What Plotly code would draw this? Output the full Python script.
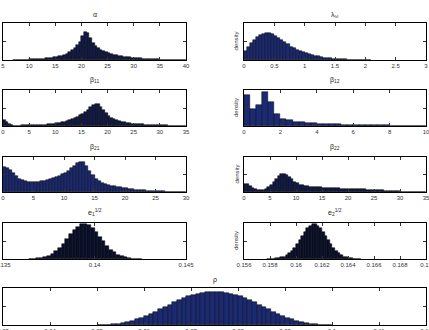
import numpy as np
import plotly.graph_objects as go

W, H = 429, 330

# ---------------- data (relative bar heights, peak = 1) ----------------
alpha_edges0, alpha_bw = 7.0, 0.5
alpha_h = [0.005, 0.008, 0.01, 0.012, 0.015, 0.018,
           0.02, 0.024, 0.028, 0.033, 0.038,
           0.045, 0.055, 0.065, 0.08, 0.095,
           0.11, 0.13, 0.16, 0.19, 0.23,
           0.28, 0.34, 0.42, 0.52, 0.64,
           0.85, 1.0, 0.97, 0.8, 0.62, 0.5, 0.42, 0.36, 0.31, 0.27,
           0.24, 0.21, 0.19, 0.17, 0.15, 0.135, 0.12, 0.105, 0.095, 0.085,
           0.075, 0.066, 0.058, 0.05, 0.044, 0.038, 0.033, 0.028, 0.024, 0.02,
           0.017, 0.014, 0.011, 0.009, 0.007, 0.005, 0.004, 0.003, 0.002, 0.001]

lam_edges0, lam_bw = 0.0, 0.05
lam_h = [0.35, 0.5, 0.62, 0.74, 0.84, 0.92, 0.97, 1.0, 0.99, 0.95, 0.9, 0.83,
         0.75, 0.66, 0.58, 0.5, 0.44, 0.38, 0.33, 0.29, 0.25, 0.21, 0.18, 0.155,
         0.13, 0.11, 0.09, 0.075, 0.062, 0.05, 0.04, 0.032, 0.026, 0.02, 0.016,
         0.012, 0.009, 0.007, 0.005, 0.004, 0.003, 0.002]

b11_edges0, b11_bw = 0.0, 0.5
b11_h = [0.25, 0.2, 0.08, 0.03, 0.02, 0.02, 0.022, 0.025, 0.028, 0.03, 0.033,
         0.037, 0.04, 0.045, 0.05, 0.056, 0.063, 0.072, 0.085, 0.1, 0.12, 0.14,
         0.165, 0.19, 0.22, 0.25, 0.29, 0.34, 0.4, 0.47, 0.54, 0.62, 0.72, 0.84,
         0.95, 1.0, 0.96, 0.86, 0.72, 0.58, 0.46, 0.37, 0.3, 0.25, 0.21, 0.18,
         0.16, 0.14, 0.125, 0.11, 0.1, 0.09, 0.08, 0.072, 0.064, 0.057, 0.05,
         0.045, 0.04, 0.035, 0.031, 0.027, 0.023, 0.02, 0.017, 0.014, 0.012,
         0.01, 0.008, 0.006]

b12_edges0, b12_bw = 0.0, 1.0 / 3.0
b12_h = [0.9, 0.5, 0.61, 1.0, 0.71, 0.35, 0.22, 0.17, 0.13, 0.115, 0.095, 0.08,
         0.07, 0.06, 0.05, 0.045, 0.04, 0.035, 0.03, 0.027, 0.024, 0.021, 0.018,
         0.016, 0.014, 0.012, 0.01, 0.009, 0.008, 0.007]

b21_edges0, b21_bw = 0.0, 0.5
b21_h = [0.82, 0.79, 0.72, 0.62, 0.52, 0.44, 0.39, 0.36, 0.34, 0.335, 0.335,
         0.34, 0.35, 0.37, 0.39, 0.42, 0.45, 0.49, 0.53, 0.58, 0.63, 0.7, 0.78,
         0.87, 0.95, 1.0, 0.97, 0.86, 0.7, 0.55, 0.44, 0.36, 0.31, 0.27, 0.24,
         0.21, 0.19, 0.17, 0.15, 0.135, 0.12, 0.105, 0.092, 0.08, 0.07, 0.06,
         0.052, 0.045, 0.038, 0.032, 0.027, 0.022, 0.018, 0.015, 0.012, 0.009,
         0.007, 0.005, 0.003, 0.002]

b22_edges0, b22_bw = 0.0, 0.5
b22_h = [0.45, 0.42, 0.35, 0.24, 0.15, 0.11, 0.1, 0.12, 0.17, 0.26, 0.38, 0.53,
         0.7, 0.86, 0.97, 1.0, 0.95, 0.84, 0.7, 0.57, 0.47, 0.4, 0.36, 0.33,
         0.31, 0.29, 0.28, 0.27, 0.26, 0.25, 0.24, 0.23, 0.22, 0.215, 0.21, 0.2,
         0.195, 0.19, 0.18, 0.175, 0.17, 0.165, 0.16, 0.155, 0.15, 0.145, 0.14,
         0.135, 0.13, 0.12, 0.115, 0.105, 0.095, 0.085, 0.075, 0.065, 0.055,
         0.045, 0.036, 0.028, 0.021, 0.015, 0.011, 0.008, 0.005, 0.003, 0.002,
         0.001, 0.0, 0.0]

e1_edges0, e1_bw = 0.1364, 0.0002
e1_h = [0.0046, 0.0093, 0.018, 0.033, 0.057, 0.095, 0.15, 0.23, 0.32, 0.44,
        0.57, 0.71, 0.83, 0.93, 0.99, 1.0, 0.96, 0.88, 0.77, 0.64, 0.51, 0.38,
        0.27, 0.19, 0.12, 0.074, 0.044, 0.025, 0.013, 0.0066, 0.0032]

e2_edges0, e2_bw = 0.1578, 0.0002
e2_h = [0.0022, 0.0043, 0.0082, 0.015, 0.026, 0.044, 0.071, 0.11, 0.164, 0.236,
        0.325, 0.43, 0.546, 0.667, 0.783, 0.882, 0.956, 0.995, 0.995, 0.956,
        0.882, 0.783, 0.667, 0.546, 0.43, 0.325, 0.236, 0.164, 0.11, 0.071,
        0.044, 0.026, 0.015, 0.0082, 0.0043, 0.0022]

rho_edges0, rho_bw = 0.05, 0.001
rho_h = [0.002, 0.005, 0.01, 0.018, 0.03, 0.048, 0.08, 0.12, 0.17, 0.22, 0.28,
         0.34, 0.4, 0.47, 0.54, 0.61, 0.68, 0.75, 0.8, 0.86, 0.9, 0.94, 0.97,
         0.99, 1.0, 1.0, 0.99, 0.97, 0.94, 0.9, 0.86, 0.8, 0.75, 0.68, 0.61,
         0.54, 0.47, 0.4, 0.34, 0.28, 0.22, 0.17, 0.12, 0.08, 0.048, 0.03,
         0.018, 0.01, 0.005, 0.002]

alpha_ticks = [5, 10, 15, 20, 25, 30, 35, 40]
lam_ticks = [0, 0.5, 1, 1.5, 2, 2.5, 3]
b11_ticks = [0, 5, 10, 15, 20, 25, 30, 35]
b12_ticks = [0, 2, 4, 6, 8, 10]
b21_ticks = [0, 5, 10, 15, 20, 25, 30]
b22_ticks = [0, 5, 10, 15, 20, 25, 30, 35]
e1_ticks = [0.135, 0.14, 0.145]
e2_ticks = [0.156, 0.158, 0.16, 0.162, 0.164, 0.166, 0.168, 0.17]
rho_ticks = [0.03, 0.04, 0.05, 0.06, 0.07, 0.08, 0.09, 0.1, 0.11, 0.12]

# ---------------- layout (pixel boxes) ----------------
L = (3, 186)
R = (244, 426)
NAVY = "#1b2a74"
DARK = "#111a4a"
panels = [
    dict(t="α", e0=alpha_edges0, bw=alpha_bw, h=alpha_h, xr=(5, 40), tk=alpha_ticks, bx=L, by=(23, 60), ymax=1.32, dens=False, ty=15, c=DARK),
    dict(t="λ<sub>ω</sub>", e0=lam_edges0, bw=lam_bw, h=lam_h, xr=(0, 3), tk=lam_ticks, bx=R, by=(23, 60), ymax=1.37, dens=True, ty=15, c=NAVY),
    dict(t="β<sub>11</sub>", e0=b11_edges0, bw=b11_bw, h=b11_h, xr=(0, 35), tk=b11_ticks, bx=L, by=(90, 126), ymax=1.6, dens=False, ty=80, c=DARK),
    dict(t="β<sub>12</sub>", e0=b12_edges0, bw=b12_bw, h=b12_h, xr=(0, 10), tk=b12_ticks, bx=R, by=(90, 126), ymax=1.06, dens=True, ty=80, c=NAVY),
    dict(t="β<sub>21</sub>", e0=b21_edges0, bw=b21_bw, h=b21_h, xr=(0, 30), tk=b21_ticks, bx=L, by=(157, 192), ymax=1.15, dens=False, ty=147, c=NAVY),
    dict(t="β<sub>22</sub>", e0=b22_edges0, bw=b22_bw, h=b22_h, xr=(0, 35), tk=b22_ticks, bx=R, by=(157, 192), ymax=1.93, dens=True, ty=147, c=DARK),
    dict(t="e<sub>1</sub><sup>1/2</sup>", e0=e1_edges0, bw=e1_bw, h=e1_h, xr=(0.135, 0.145), tk=e1_ticks, bx=L, by=(223, 259), ymax=1.03, dens=False, ty=212, c="#0a0f2c"),
    dict(t="e<sub>2</sub><sup>1/2</sup>", e0=e2_edges0, bw=e2_bw, h=e2_h, xr=(0.156, 0.17), tk=e2_ticks, bx=R, by=(223, 259), ymax=1.03, dens=True, ty=212, c="#0a0f2c"),
    dict(t="ρ", e0=rho_edges0, bw=rho_bw, h=rho_h, xr=(0.03, 0.12), tk=rho_ticks, bx=(3, 426), by=(288, 325), ymax=1.11, dens=False, ty=280, c=NAVY),
]

FONT = "Liberation Sans"
fig = go.Figure()
annotations = []
layout = {}
for i, p in enumerate(panels, start=1):
    sfx = "" if i == 1 else str(i)
    n = len(p["h"])
    centers = p["e0"] + p["bw"] * (np.arange(n) + 0.5)
    fig.add_trace(go.Bar(
        x=centers, y=p["h"], width=p["bw"],
        marker=dict(color=p["c"], line=dict(color="#000000", width=0.5)),
        xaxis="x" + sfx, yaxis="y" + sfx, showlegend=False, hoverinfo="skip",
    ))
    x0, x1 = p["bx"]
    y0, y1 = p["by"]
    ticktext = [("%g" % v) for v in p["tk"]]
    layout["xaxis" + sfx] = dict(
        domain=[x0 / W, x1 / W], range=list(p["xr"]), anchor="y" + sfx,
        tickvals=p["tk"], ticktext=ticktext, ticks="inside", ticklen=3,
        tickwidth=1, tickcolor="#333", showline=True, linecolor="#000",
        linewidth=1, mirror="ticks", showgrid=False, zeroline=False,
        tickfont=dict(family=FONT, size=6, color="#333"),
        ticklabeloverflow="allow", fixedrange=True, automargin=False,
    )
    layout["yaxis" + sfx] = dict(
        domain=[1 - y1 / H, 1 - y0 / H], range=[0, p["ymax"]], anchor="x" + sfx,
        tickvals=[p["ymax"] / 2], ticks="inside", ticklen=3,
        tickwidth=1, tickcolor="#333", showline=True, linecolor="#000",
        linewidth=1, mirror="ticks", showgrid=False, zeroline=False,
        showticklabels=False, fixedrange=True, automargin=False,
    )
    annotations.append(dict(
        text=p["t"], x=(x0 + x1) / 2 / W, y=1 - p["ty"] / H, xref="paper",
        yref="paper", showarrow=False, xanchor="center", yanchor="middle",
        font=dict(family=FONT, size=7, color="#222"),
    ))
    if p["dens"]:
        annotations.append(dict(
            text="density", x=236 / W, y=1 - (y0 + y1) / 2 / H, xref="paper",
            yref="paper", showarrow=False, textangle=-90, xanchor="center",
            yanchor="middle", font=dict(family=FONT, size=6, color="#333"),
        ))

fig.update_layout(
    width=W, height=H, margin=dict(l=0, r=0, t=0, b=0, autoexpand=False),
    autosize=False, paper_bgcolor="white", plot_bgcolor="white", bargap=0,
    annotations=annotations, **layout,
)
fig.write_html("out.html", config={"displayModeBar": False})
